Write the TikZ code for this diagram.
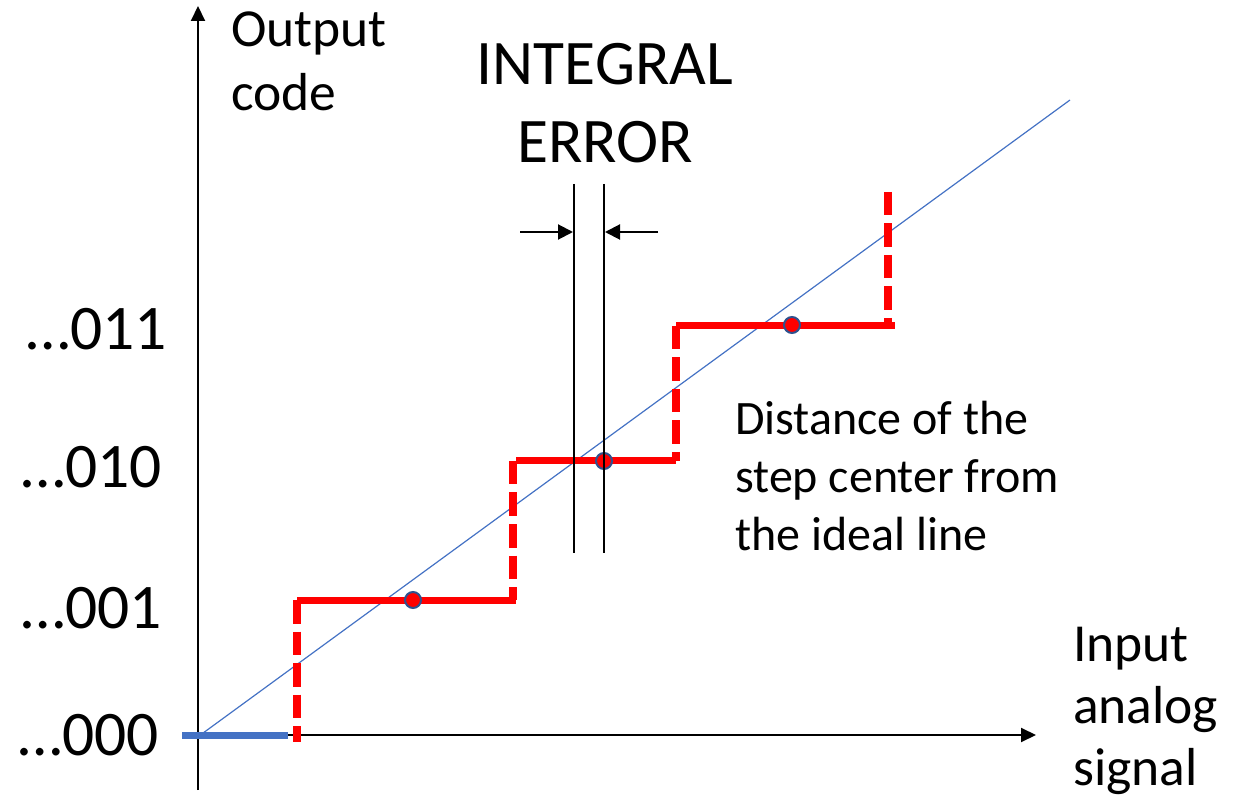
\documentclass[tikz,border=0pt]{standalone}
\usepackage{fontspec}
\setmainfont{Carlito}
\usetikzlibrary{arrows.meta}
\definecolor{stepred}{HTML}{FF0000}
\definecolor{idealblue}{HTML}{4472C4}
\definecolor{dotblue}{HTML}{2F528F}
\tikzset{
  axisline/.style={line width=2pt,-{Triangle[length=15pt,width=14pt]}},
  riser/.style={stepred,line width=7.5pt,dash pattern=on 23.5pt off 8pt},
  tread/.style={stepred,line width=7pt},
  centerdot/.style={circle,fill=stepred,draw=dotblue,line width=2pt,minimum size=16pt,inner sep=0pt},
  guide/.style={line width=1.5pt},
  dimarrow/.style={line width=2pt,-{Triangle[length=15pt,width=15pt]}},
  bigtxt/.style={inner sep=0pt,font=\fontsize{63.5}{70}\selectfont},
  midtxt/.style={inner sep=0pt,font=\fontsize{53.5}{60}\selectfont},
  smalltxt/.style={inner sep=0pt,font=\fontsize{48}{56}\selectfont},
}
\begin{document}
\begin{tikzpicture}[x=1pt,y=-1pt]
\useasboundingbox (0,0) rectangle (1243,799);
% axes
\coordinate (ybot) at (198,790);
\coordinate (ytop) at (198,6);
\coordinate (xorg) at (198,735);
\coordinate (xend) at (1036,735);
\draw[axisline] (ybot) -- (ytop);
\draw[axisline] (xorg) -- (xend);
% ideal line
\coordinate (i0) at (199,736);
\coordinate (i1) at (1070,100);
\draw[idealblue,line width=1.2pt] (i0) -- (i1);
% zero code segment
\coordinate (z0) at (182,735);
\coordinate (z1) at (288,735);
\draw[idealblue,line width=7pt] (z0) -- (z1);
% steps
\coordinate (s1b) at (297,742);
\coordinate (s1t) at (297,600);
\coordinate (h1e) at (516,600);
\coordinate (s2b) at (513,600);
\coordinate (s2t) at (513,461);
\coordinate (h2s) at (516,461);
\coordinate (h2e) at (676,461);
\coordinate (s3b) at (676,461);
\coordinate (s3t) at (676,326);
\coordinate (h3e) at (895,326);
\coordinate (s4b) at (888,326);
\coordinate (s4t) at (888,192);
\draw[riser] (s1t) -- (s1b);
\draw[riser] (s2t) -- (s2b);
\draw[riser] (s3t) -- (s3b);
\draw[riser] (s4t) -- (s4b);
\draw[tread] (s1t) -- (h1e);
\draw[tread] (h2s) -- (h2e);
\draw[tread] (s3t) -- (h3e);
% step centres
\node[centerdot] (c1) at (413,600) {};
\node[centerdot] (c2) at (604,461) {};
\node[centerdot] (c3) at (792,325) {};
% integral error marks
\coordinate (g1t) at (574,184);
\coordinate (g1b) at (574,553);
\coordinate (g2t) at (604,184);
\coordinate (g2b) at (604,553);
\draw[guide] (g1t) -- (g1b);
\draw[guide] (g2t) -- (g2b);
\coordinate (a1s) at (520,232);
\coordinate (a1e) at (573,232);
\coordinate (a2s) at (658,232);
\coordinate (a2e) at (605,232);
\draw[dimarrow] (a1s) -- (a1e);
\draw[dimarrow] (a2s) -- (a2e);
% texts
\node[midtxt,anchor=base west] (out1) at (231,47) {Output};
\node[midtxt,anchor=base west] (out2) at (231,111) {code};
\node[bigtxt,anchor=base] (int1) at (605,85) {INTEGRAL};
\node[bigtxt,anchor=base] (int2) at (605,163) {ERROR};
\node[bigtxt,anchor=base west] (l3) at (26,350) {…011};
\node[bigtxt,anchor=base west] (l2) at (21,488) {…010};
\node[bigtxt,anchor=base west] (l1) at (21,628) {…001};
\node[bigtxt,anchor=base west] (l0) at (18,755) {…000};
\node[smalltxt,anchor=base west] (d1) at (735,435) {Distance of the};
\node[smalltxt,anchor=base west] (d2) at (735,493) {step center from};
\node[smalltxt,anchor=base west] (d3) at (735,550) {the ideal line};
\node[midtxt,anchor=base west] (in1) at (1073,661) {Input};
\node[midtxt,anchor=base west] (in2) at (1073,723) {analog};
\node[midtxt,anchor=base west] (in3) at (1073,785) {signal};
\end{tikzpicture}
\end{document}
